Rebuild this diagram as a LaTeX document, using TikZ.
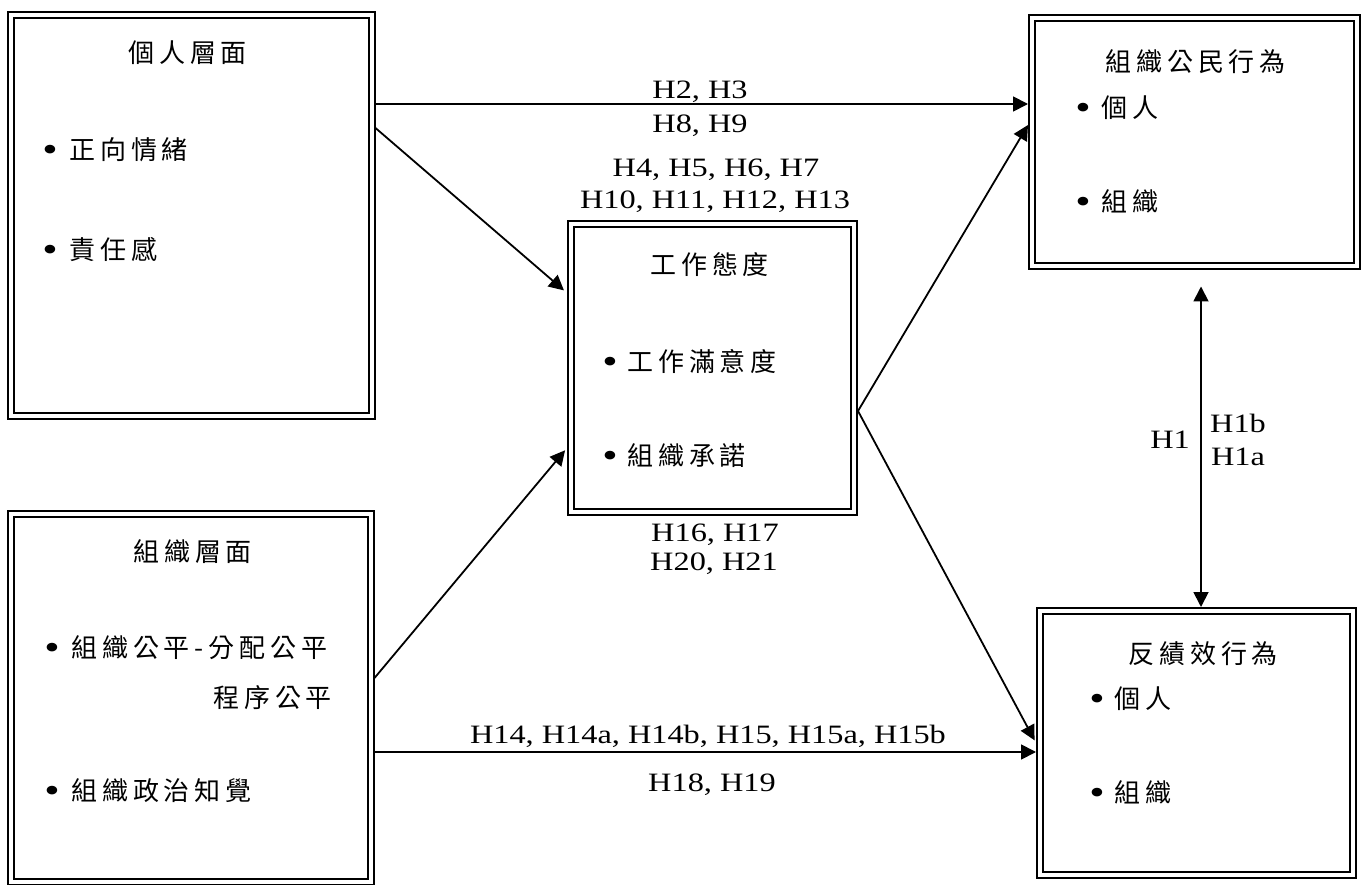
\documentclass[tikz,border=0pt]{standalone}
\usepackage{fontspec}
\setmainfont{Liberation Serif}[FakeStretch=1.22]
\newfontfamily\cjk{Noto Sans CJK TC}[LetterSpace=19]
\usetikzlibrary{arrows.meta}
\begin{document}
\begin{tikzpicture}[x=1pt,y=-1pt,
  box/.style={draw, line width=2pt, double, double distance=4pt, outer sep=4pt, inner sep=0pt, rectangle},
  ct/.style={anchor=base west, inner sep=0pt, font=\fontsize{26}{26}\selectfont\cjk},
  bul/.style={anchor=base, inner sep=0pt, font=\fontsize{36}{36}\selectfont},
  lab/.style={anchor=base, inner sep=0pt, font=\fontsize{26.5}{26.5}\selectfont},
  arr/.style={line width=1.8pt, -{Triangle[length=15pt,width=15pt]}}]
\useasboundingbox (0,0) rectangle (1361,885);
% boxes
\node[box, minimum width=360.2pt, minimum height=401.3pt] (b1) at (191.4,215.35) {};
\node[box, minimum width=359.2pt, minimum height=368.5pt] (b2) at (190.9,697.75) {};
\node[box, minimum width=283pt, minimum height=287pt] (b3) at (712.5,368) {};
\node[box, minimum width=325pt, minimum height=248.2pt] (b4) at (1194.5,142.4) {};
\node[box, minimum width=312.5pt, minimum height=264pt] (b5) at (1196.25,743) {};
% box 1
\node[ct] (t1) at (128,63) {個人層面};
\node[bul] (p11) at (50,162) {\textbullet};
\node[ct] (i11) at (69,160) {正向情緒};
\node[bul] (p12) at (50,262) {\textbullet};
\node[ct] (i12) at (69,260) {責任感};
% box 2
\node[ct] (t2) at (133,561) {組織層面};
\node[bul] (p21) at (52,659) {\textbullet};
\node[ct] (i21) at (71,657) {組織公平-分配公平};
\node[ct] (i22) at (213,707) {程序公平};
\node[bul] (p23) at (52,802) {\textbullet};
\node[ct] (i23) at (71,800) {組織政治知覺};
% box 3
\node[ct] (t3) at (650,275) {工作態度};
\node[bul] (p31) at (610,374) {\textbullet};
\node[ct] (i31) at (627,372) {工作滿意度};
\node[bul] (p32) at (610,467) {\textbullet};
\node[ct] (i32) at (627,465) {組織承諾};
% box 4
\node[ct] (t4) at (1105,72) {組織公民行為};
\node[bul] (p41) at (1083,120) {\textbullet};
\node[ct] (i41) at (1101,118) {個人};
\node[bul] (p42) at (1083,214) {\textbullet};
\node[ct] (i42) at (1101,212) {組織};
% box 5
\node[ct] (t5) at (1128,663) {反績效行為};
\node[bul] (p51) at (1097,710) {\textbullet};
\node[ct] (i51) at (1114,708) {個人};
\node[bul] (p52) at (1097,804) {\textbullet};
\node[ct] (i52) at (1114,802) {組織};
% labels
\node[lab] (l1) at (700,98.5) {H2, H3};
\node[lab] (l2) at (700,132.5) {H8, H9};
\node[lab] (l3) at (716,176.5) {H4, H5, H6, H7};
\node[lab] (l4) at (715,208.5) {H10, H11, H12, H13};
\node[lab] (l5) at (715,541.5) {H16, H17};
\node[lab] (l6) at (714,570.5) {H20, H21};
\node[lab] (l7) at (708,743.5) {H14, H14a, H14b, H15, H15a, H15b};
\node[lab] (l8) at (712,791.5) {H18, H19};
\node[lab] (l9) at (1170,448.5) {H1};
\node[lab] (l10) at (1238,432.5) {H1b};
\node[lab] (l11) at (1238,465.5) {H1a};
% arrows
\draw[arr] (b1.east |- 0,104) -- (b4.west |- 0,104);
\draw[arr, shorten >=4pt] (b1.east |- 0,128) -- (b3.west |- 0,293);
\draw[arr, shorten >=3pt] (b2.east |- 0,678) -- (b3.west |- 0,448);
\draw[arr] (b3.east |- 0,411) -- (b4.west |- 0,125);
\draw[arr, shorten >=3pt] (b3.east |- 0,411) -- (b5.west |- 0,743);
\draw[arr] (b2.east |- 0,752) -- (b5.west |- 0,752);
\draw[line width=1.8pt, {Triangle[length=15pt,width=15pt]}-{Triangle[length=15pt,width=15pt]}, shorten <=16pt] (b4.south -| 1201,0) -- (b5.north -| 1201,0);
\end{tikzpicture}
\end{document}
